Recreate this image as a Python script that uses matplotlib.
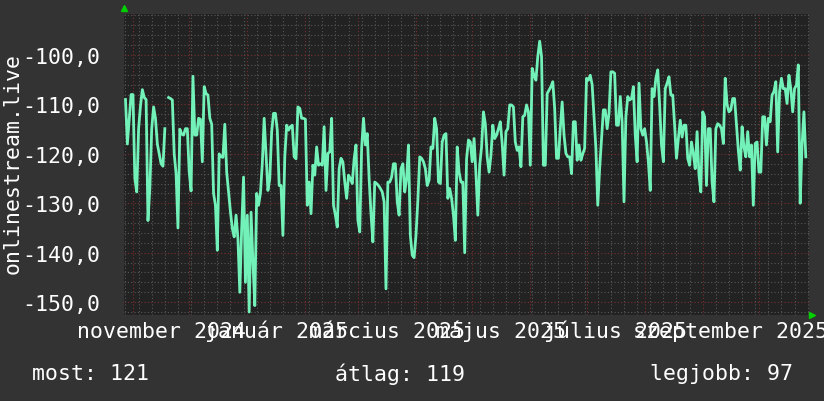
import datetime as dt

import matplotlib
matplotlib.use("Agg")
from matplotlib import pyplot as plt
from matplotlib import dates as mdates
from matplotlib import ticker
from matplotlib import transforms
import numpy as np

# daily readings, first sample on 2024-10-28 (nan = missing day)
START = dt.datetime(2024, 10, 28)

vals_oct_dec = [-109, -118, -113, -108, -108, -125, -127.7, -114.9, -110.3, -107,
                -108.6, -109, -133.5, -127, -114.9, -110.5, -112.8, -118, -120, -122,
                -122.5, -114.9, np.nan, -108.6, -108.8, -109.1, -120, -124, -135, -115,
                -116, -116.2, -114.9, -114.9, -123.7, -127.5, -104.3, -116.2, -116.2, -112.8,
                -113, -121.6, -106.4, -107.8, -108.1, -112.8, -114, -128, -130.4, -139.5,
                -120, -120.6, -120.7, -114, -123.7, -127.7, -131.7, -135.1, -136.8]
vals_dec_feb = [-132.4, -137.2, -148, -135.1, -124.7, -146, -132.4, -152, -131.8, -141.9,
                -150.7, -128, -130.4, -128, -122, -112.8, -120, -127.4, -125, -115.5,
                -111.8, -111.8, -115.2, -126.4, -126.4, -136.5, -120.6, -114.2, -115.2, -114.5,
                -114.2, -120.6, -121, -110.5, -110.8, -112.8, -112.8, -113, -130.4, -125.7,
                -132.1, -122.3, -124.3, -118.6, -122.3, -122, -122.3, -114.5, -127.4, -119.9,
                -119.6, -112.8, -130.4, -132.4, -134.8, -123, -120.9, -121.6, -125.7, -129,
                -124.3, -125]
vals_feb_apr = [-126, -121, -118.2, -133.4, -135.8, -118.9, -112.8, -118.2, -115.9, -125,
                -132.1, -137.8, -125.7, -126, -126.4, -127, -127.7, -129.7, -147.3, -125.7,
                -125.7, -124.7, -122, -122, -129.7, -132.4, -123, -122, -127.7, -125,
                -118.2, -136.5, -140.5, -141, -136.5, -129.4, -120.6, -120.9, -121.6, -123,
                -126.4, -125.3, -118.6, -118.9, -112.8, -114.9, -125.7, -126, -117.6, -116.2,
                -115.9, -129, -127, -129, -132.4, -137.5, -118.6, -123.7, -125.7, -125.7,
                -140]
vals_apr_jun = [-121, -117.2, -117.6, -121.6, -116.9, -124, -132.4, -122.3, -118.6, -111.5,
                -113.9, -120.6, -123.7, -120.3, -114.2, -116.9, -116.2, -114.9, -113.5, -117.9,
                -124.3, -115.5, -114.9, -110.1, -110.1, -110.5, -117.6, -119.3, -118.6, -122.6,
                -112.5, -112.2, -110.1, -111.5, -122.3, -102.7, -104.1, -105.1, -100.3, -97.2,
                -100.3, -122.3, -122.3, -107.8, -107.1, -106.4, -105.4, -110.8, -120.9, -120.9,
                -114.9, -109.5, -116.2, -119.9, -120.6, -120.6, -124, -113.5, -113.5, -121.3,
                -118.2]
vals_jun_aug = [-121.3, -120, -118.9, -104.7, -105.1, -104.1, -106, -112.5, -118.9, -130.4,
                -123, -116.9, -111.1, -111.1, -114.9, -111.8, -103.4, -103.4, -103.7, -114.2,
                -114.2, -108.4, -113.5, -129.7, -112.5, -108.4, -109.1, -108.8, -106.4, -116.2,
                -121.6, -105.7, -114.9, -116.2, -114.9, -117.6, -121.6, -127.4, -106.8, -108.4,
                -104.7, -103, -110.1, -118.2, -121.6, -106.8, -105.7, -104.4, -108.1, -108.1,
                -114.2, -120.9, -116.9, -113.2, -116.6, -114.2, -114.2, -120.9, -122.3, -117.6,
                -120]
vals_aug_oct = [-123, -115.5, -124.3, -127.7, -111.5, -112.5, -126.4, -114.9, -114.9, -125.7,
                -129.7, -114.9, -113.9, -114.2, -114.9, -117.9, -104.7, -110, -111.5, -111.1,
                -108.8, -108.8, -113.9, -119.3, -123.3, -114.5, -118.6, -120.6, -115.5, -120.6,
                -118.2, -130.4, -117.9, -117.6, -123.7, -123.7, -112.5, -112.5, -118.2, -112.8,
                -113.5, -108.1, -107.4, -105.4, -119.6, -107.4, -104.7, -106.8, -106.8, -109.8,
                -104.1, -106.8, -111.5, -106.8, -106.1, -102, -130, -118.2, -111.5, -120.6]

month_labels = ["november 2024", "január 2025", "március 2025",
                "május 2025", "július 2025", "szeptember 2025"]
label_dates = [dt.datetime(2024, 11, 16), dt.datetime(2025, 1, 16, 12),
               dt.datetime(2025, 3, 16, 12), dt.datetime(2025, 5, 16, 12),
               dt.datetime(2025, 7, 16, 12), dt.datetime(2025, 9, 16)]
summary_labels = ["most: 121", "átlag: 119", "legjobb: 97"]
y_title = "onlinestream.live"

values = np.array(vals_oct_dec + vals_dec_feb + vals_feb_apr
                  + vals_apr_jun + vals_jun_aug + vals_aug_oct, dtype=float)
days = [START + dt.timedelta(days=i) for i in range(len(values))]

W, H = 824, 402
FS = 15.5
plt.rcParams["font.family"] = ["DejaVu Sans Mono", "DejaVu Sans"]

fig = plt.figure(figsize=(W / 100, H / 100), dpi=100, facecolor="#333333")
ax = fig.add_axes([124 / W, (H - 316) / H, (809 - 124) / W, (316 - 15) / H])
ax.set_facecolor("#222222")

ax.plot(days, values, color="#72f2b8", lw=2.0, zorder=3)

ax.set_xlim(dt.datetime(2024, 10, 27, 5), dt.datetime(2025, 10, 27, 17))
ax.set_ylim(-152.6, -91.7)

ax.xaxis.set_major_locator(mdates.MonthLocator())
ax.xaxis.set_minor_locator(mdates.WeekdayLocator(byweekday=mdates.MO))
ax.yaxis.set_major_locator(ticker.MultipleLocator(10))
ax.yaxis.set_minor_locator(ticker.MultipleLocator(2))
ax.yaxis.set_major_formatter(
    ticker.FuncFormatter(lambda v, p: ("%.1f" % v).replace(".", ",")))

ax.grid(which="minor", color="#575757", ls=(0, (1, 2)), lw=0.8)
ax.grid(which="major", color="#7a2e2e", ls=(0, (1, 2)), lw=0.8)
ax.set_axisbelow(True)

for side in ax.spines.values():
    side.set_visible(False)
ax.tick_params(axis="x", which="both", length=0, labelbottom=False)
ax.tick_params(axis="y", which="both", length=0, pad=17,
               labelcolor="white", labelsize=FS)

# month labels centred on the middle of the month
trans = transforms.blended_transform_factory(ax.transData, ax.transAxes)
for when, text in zip(label_dates, month_labels):
    ax.text(when, -0.052, text, transform=trans, ha="center", va="center",
            color="white", fontsize=FS, clip_on=False)

fig.text(13 / W, 1 - 163 / H, y_title, rotation=90, ha="center", va="center",
         color="white", fontsize=FS)

for x_px, text in zip([32, 335, 650], summary_labels):
    fig.text(x_px / W, 1 - 374 / H, text, ha="left", va="center",
             color="white", fontsize=FS)

# little green arrow heads at the axis ends
ax.plot([0], [1.02], marker="^", ms=5, color="#00d000", transform=ax.transAxes,
        clip_on=False, ls="none")
ax.plot([1.005], [0], marker=">", ms=5, color="#00d000", transform=ax.transAxes,
        clip_on=False, ls="none")

fig.savefig("out.png", dpi=100, facecolor=fig.get_facecolor())
